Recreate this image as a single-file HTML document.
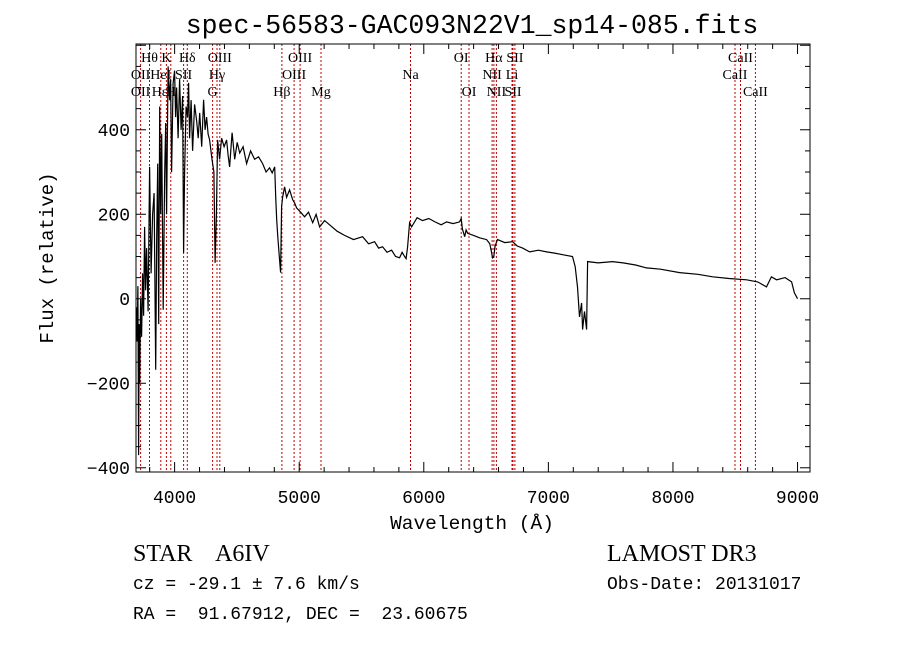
<!DOCTYPE html>
<html><head><meta charset="utf-8"><style>
html,body{margin:0;padding:0;background:#fff;}
svg{display:block;}
.mono{font-family:"Liberation Mono",monospace;white-space:pre;}
.serif{font-family:"Liberation Serif",serif;white-space:pre;}
</style></head><body>
<svg id="chart" width="900" height="649" xmlns="http://www.w3.org/2000/svg">
<rect width="900" height="649" fill="#fff"/>
<text class="mono" x="472" y="33" font-size="26.5" text-anchor="middle">spec-56583-GAC093N22V1_sp14-085.fits</text>
<g id="lines"></g>
<g id="labels"></g>
<path id="spec" fill="none" stroke="#000" stroke-width="1.2"/>
<rect x="136" y="44" width="674" height="428" fill="none" stroke="#000" stroke-width="1"/>
<g id="ticks" stroke="#000" stroke-width="1"></g>
<g id="ticklabels" class="mono" font-size="18"></g>
<text class="mono" x="472" y="529" font-size="19.5" text-anchor="middle">Wavelength (Å)</text>
<text class="mono" x="0" y="0" font-size="19" text-anchor="middle" transform="translate(53,258) rotate(-90)">Flux (relative)</text>
<text class="serif" x="133" y="561" font-size="24">STAR    A6IV</text>
<text class="mono" x="133" y="589" font-size="18">cz = -29.1 ± 7.6 km/s</text>
<text class="mono" x="133" y="619" font-size="18">RA =  91.67912, DEC =  23.60675</text>
<text class="serif" x="607" y="561" font-size="24">LAMOST DR3</text>
<text class="mono" x="607" y="589" font-size="18">Obs-Date: 20131017</text>
</svg>
<script>
const wavelengths=[
3695,3700,3705,3711,3716,3720,3727,3735,3743,3751,
3759,3767,3775,3787,3799,3811,3823,3835,3848,3856,
3864,3872,3880,3888,3896,3908,3920,3928,3936,3948,
3960,3968,3976,3988,4000,4008,4016,4028,4040,4052,
4064,4072,4080,4092,4104,4112,4120,4132,4144,4160,
4177,4189,4201,4217,4233,4245,4257,4269,4281,4300,
4315,4325,4335,4345,4361,4377,4397,4417,4429,4441,
4461,4482,4502,4522,4550,4578,4610,4642,4674,4706,
4734,4762,4783,4803,4811,4819,4827,4840,4851,4859,
4867,4883,4899,4923,4947,4963,4979,5011,5043,5075,
5108,5136,5164,5204,5244,5304,5364,5436,5509,5557,
5605,5637,5669,5705,5742,5774,5806,5826,5846,5858,
5870,5886,5902,5946,5990,6040,6090,6140,6183,6235,
6287,6300,6310,6328,6340,6352,6400,6450,6504,6530,
6552,6562,6572,6592,6650,6713,6750,6793,6850,6920,
6986,7050,7120,7194,7215,7234,7250,7267,7275,7290,
7307,7315,7400,7515,7600,7700,7788,7900,8053,8200,
8318,8450,8591,8680,8751,8790,8832,8900,8952,8975,
8992,9000];
const fluxes=[
-20,-100,30,-370,-60,-200,0,-90,60,-40,
170,20,120,-30,312,60,200,250,-168,150,
320,-60,455,200,390,-26,300,416,200,550,
470,520,300,510,540,430,500,380,520,400,
480,109,300,455,430,511,380,470,350,460,
420,380,440,360,471,400,430,390,376,330,
300,85,200,376,330,380,360,376,340,312,
393,330,370,345,360,320,350,330,336,320,
300,310,298,312,241,187,150,100,62,218,
240,265,240,258,235,227,215,205,194,205,
180,200,170,185,175,160,150,140,147,130,
135,120,123,110,115,100,97,110,100,95,
123,180,170,192,185,190,182,175,182,178,
182,190,165,147,163,155,150,144,140,130,
97,100,125,140,133,135,125,120,111,115,
111,108,104,100,76,28,-43,-10,-73,-30,
-73,88,85,88,85,80,73,70,62,58,
52,48,45,40,28,52,45,50,40,14,
5,0];
const lineWaves=[3727,3798,3889,3934,3969,4072,4102,4305,4340,4363,4861,4959,5007,5175,5893,6300,6363,6548,6563,6583,6708,6716,6731,8498,8542,8662];
const labelTexts=["Hθ","K","Hδ","OIII","OIII","OI","Hα","SII","CaII","OII","HeI","SII","Hγ","OIII","Na","NII","Li","CaII","OII","Hε","H","G","Hβ","Mg","OI","NII","SII","CaII"];
const labelWaves=[3798,3934,4102,4363,5007,6300,6563,6731,8542,3727,3889,4072,4340,4959,5893,6548,6708,8498,3727,3880,3969,4305,4861,5175,6363,6583,6716,8662];
const labelRows=[0,0,0,0,0,0,0,0,0,1,1,1,1,1,1,1,1,1,2,2,2,2,2,2,2,2,2,2];
const xTicks=[4000,5000,6000,7000,8000,9000];
const yTicks=[-400,-200,0,200,400];
const X0=3690,X1=9100,Y0=-410,Y1=603;
const PL=136,PR=810,PT=44,PB=472;
function xs(w){return PL+(w-X0)/(X1-X0)*(PR-PL);}
function ys(f){return PB-(f-Y0)/(Y1-Y0)*(PB-PT);}
const NS="http://www.w3.org/2000/svg";
let d="";
for(let i=0;i<wavelengths.length;i++){d+=(i?"L":"M")+xs(wavelengths[i]).toFixed(1)+","+ys(fluxes[i]).toFixed(1);}
document.getElementById("spec").setAttribute("d",d);
const lg=document.getElementById("lines");
lineWaves.forEach(w=>{const l=document.createElementNS(NS,"line");


const x=xs(w).toFixed(1);l.setAttribute("x1",x);l.setAttribute("x2",x);l.setAttribute("y1",PT);l.setAttribute("y2",PB);
l.setAttribute("stroke","#c00000");l.setAttribute("stroke-width","1");l.setAttribute("stroke-dasharray","2,2");lg.appendChild(l);});
const lb=document.getElementById("labels");
labelTexts.forEach((t,i)=>{const e=document.createElementNS(NS,"text");


e.setAttribute("x",xs(labelWaves[i]).toFixed(1));e.setAttribute("y",62+labelRows[i]*17);
e.setAttribute("text-anchor","middle");e.setAttribute("font-size","14");e.setAttribute("class","serif");e.textContent=t;lb.appendChild(e);});
const tg=document.getElementById("ticks"),tl=document.getElementById("ticklabels");
function tick(x1,y1,x2,y2){const l=document.createElementNS(NS,"line");


l.setAttribute("x1",x1);l.setAttribute("y1",y1);l.setAttribute("x2",x2);l.setAttribute("y2",y2);tg.appendChild(l);}
for(let w=3800;w<=9100;w+=200){const x=xs(w);const L=(w%1000===0)?10:5;tick(x,PB,x,PB-L);tick(x,PT,x,PT+L);}
for(let f=-400;f<=600;f+=50){const y=ys(f);const L=(f%200===0)?10:5;tick(PL,y,PL+L,y);tick(PR,y,PR-L,y);}
xTicks.forEach(w=>{const e=document.createElementNS(NS,"text");


e.setAttribute("x",xs(w));e.setAttribute("y",PB+31);e.setAttribute("text-anchor","middle");e.textContent=w;tl.appendChild(e);});
yTicks.forEach(f=>{const e=document.createElementNS(NS,"text");


e.setAttribute("x",PL-6);e.setAttribute("y",ys(f)+6);e.setAttribute("text-anchor","end");e.textContent=f===0?"0":String(f).replace("-","\u2212");tl.appendChild(e);});
</script>
</body></html>
